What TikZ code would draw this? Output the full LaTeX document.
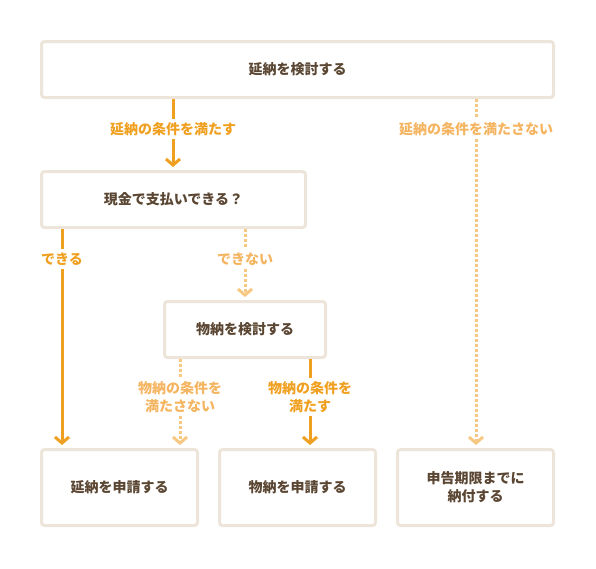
\documentclass[tikz,border=0pt]{standalone}
\usepackage{fontspec}
\setmainfont{Noto Sans CJK JP}
\usetikzlibrary{arrows.meta}
\definecolor{boxline}{HTML}{EDE5DA}
\definecolor{boxtext}{HTML}{5A4632}
\definecolor{yesline}{HTML}{F0A020}
\definecolor{noline}{HTML}{F7C882}
\definecolor{notext}{HTML}{F5B460}
\tikzset{
  box/.style={draw=boxline, line width=3pt, rounded corners=3pt, fill=white,
    text=boxtext, font=\fontsize{14}{18}\selectfont\bfseries, align=center,
    inner sep=0pt},
  yeslab/.style={text=yesline, font=\fontsize{14}{17.5}\selectfont\bfseries, align=center, inner sep=3.5pt},
  nolab/.style={text=notext, font=\fontsize{14}{17.5}\selectfont\bfseries, align=center, inner sep=3.5pt},
  yes/.style={draw=yesline, line width=3pt},
  no/.style={draw=noline, line width=3pt, dash pattern=on 3pt off 2pt},
  tip/.style={-{Straight Barb[length=6pt,width=14pt]}, shorten >=3pt},
}
\begin{document}
\begin{tikzpicture}[x=1pt,y=-1pt]
\useasboundingbox (0,0) rectangle (596,568);
% boxes
\node[box, minimum width=512pt, minimum height=56pt] (b1) at (297.5,69.5) {延納を検討する};
\node[box, minimum width=264pt, minimum height=56pt] (b2) at (173.5,199.5) {現金で支払いできる？};
\node[box, minimum width=161pt, minimum height=56pt] (b3) at (245,329.5) {物納を検討する};
\node[box, minimum width=156pt, minimum height=76pt] (b4) at (119.5,487.5) {延納を申請する};
\node[box, minimum width=156pt, minimum height=76pt] (b5) at (297.5,487.5) {物納を申請する};
\node[box, minimum width=156pt, minimum height=76pt] (b6) at (475.5,487.5) {申告期限までに\\納付する};
% labels
\node[yeslab] (l1) at (173,129) {延納の条件を満たす};
\node[nolab]  (l2) at (476,129) {延納の条件を満たさない};
\node[yeslab] (l3) at (62,259) {できる};
\node[nolab]  (l4) at (245,259) {できない};
\node[nolab]  (l5) at (180,397) {物納の条件を\\満たさない};
\node[yeslab] (l6) at (310,397) {物納の条件を\\満たす};
% connectors
\draw[yes] (l1.north |- b1.south) -- (l1.north);
\draw[yes,tip] (l1.south) -- (l1.south |- b2.north);
\draw[no] (l2.north |- b1.south) -- (l2.north);
\draw[no,tip] (l2.south) -- (l2.south |- b6.north);
\draw[yes] (l3.north |- b2.south) -- (l3.north);
\draw[yes,tip] (l3.south) -- (l3.south |- b4.north);
\draw[no] (l4.north |- b2.south) -- (l4.north);
\draw[no,tip] (l4.south) -- (l4.south |- b3.north);
\draw[no] (l5.north |- b3.south) -- (l5.north);
\draw[no,tip] (l5.south) -- (l5.south |- b4.north);
\draw[yes] (l6.north |- b3.south) -- (l6.north);
\draw[yes,tip] (l6.south) -- (l6.south |- b5.north);
\end{tikzpicture}
\end{document}
